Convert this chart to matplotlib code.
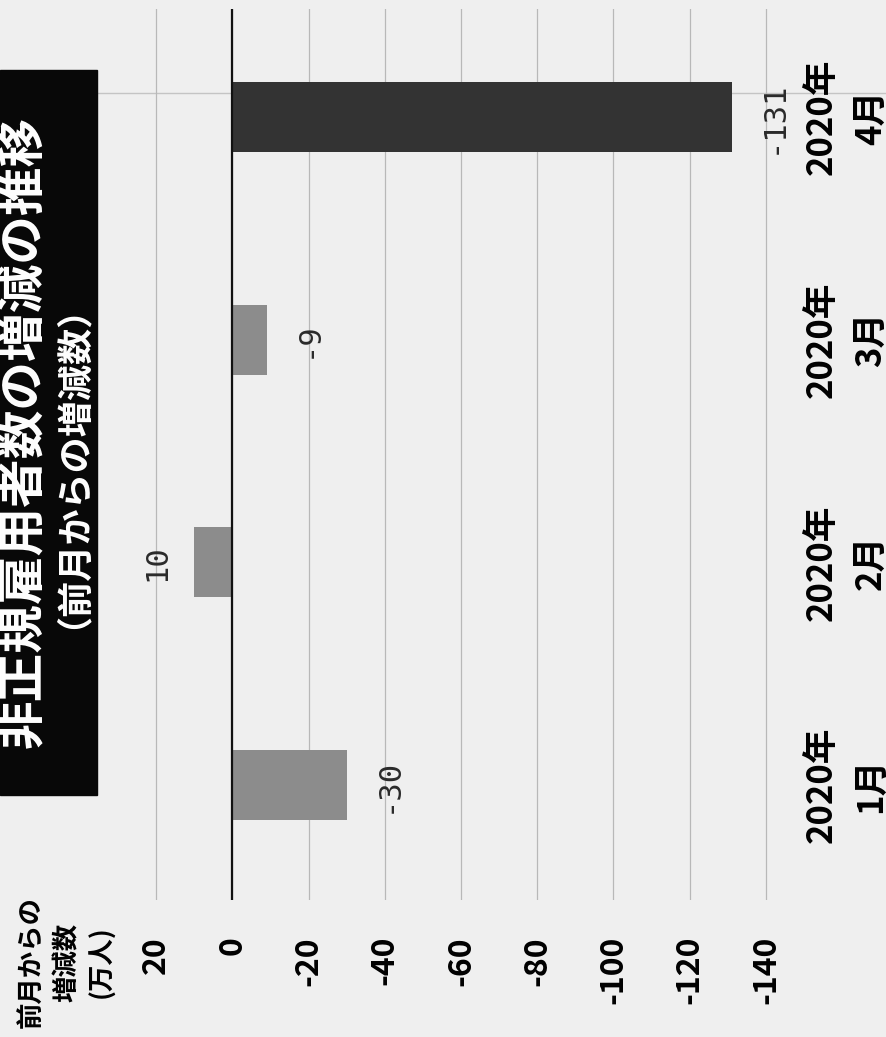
import numpy as np
import matplotlib
matplotlib.use("Agg")
import matplotlib.pyplot as plt
from matplotlib.patches import Rectangle
from matplotlib.lines import Line2D

plt.rcParams['font.family'] = ['Noto Sans CJK JP', 'DejaVu Sans']

# data
months = ['1月', '2月', '3月', '4月']
year = '2020年'
values = [-30, 10, -9, -131]
bar_colors = ['#8c8c8c', '#8c8c8c', '#8c8c8c', '#333333']
ticks = [20, 0, -20, -40, -60, -80, -100, -120, -140]

title = '非正規雇用者数の増減の推移'
subtitle = '（前月からの増減数）'
unit = '前月からの\n増減数\n(万人)'

W, H = 887, 1037
fig = plt.figure(figsize=(W / 100, H / 100), dpi=100)
fig.patch.set_facecolor('#efefef')


def fx(px):
    return px / W


def fy(py):
    return 1 - py / H


# the chart is printed turned on its side, so bars run horizontally
ax = fig.add_axes([fx(118), fy(900), fx(804) - fx(118), fy(9) - fy(900)])
ax.set_facecolor('none')
pos = np.arange(len(months))
ax.barh(pos, values, height=0.315, color=bar_colors, zorder=3)
ax.set_xlim(30, -150)
ax.set_ylim(-0.516, 3.485)

ax.set_xticks(ticks)
ax.set_xticklabels([str(t) for t in ticks], rotation=90, fontsize=23,
                   fontweight='bold', va='top', ha='center')
ax.tick_params(axis='x', length=0, pad=26)
ax.grid(axis='x', color='#b8b8b8', lw=0.9, zorder=0)
ax.axvline(0, color='#111111', lw=1.6, zorder=4)

ax.yaxis.tick_right()
ax.set_yticks(pos)
ax.set_yticklabels([f'{year}\n{m}' for m in months], rotation=90, fontsize=25,
                   fontweight='bold', ha='left', va='center',
                   multialignment='center')
for t in ax.get_yticklabels():
    t.set_linespacing(1.5)
ax.tick_params(axis='y', length=0, pad=0)
for s in ax.spines.values():
    s.set_visible(False)

# value labels beyond the bar ends
for p, v in zip(pos, values):
    off = 30 if v < 0 else -27
    ax.annotate(str(v), (v, p), xytext=(off, 0), textcoords='offset points',
                rotation=90, ha='center', va='center', fontsize=22,
                family='DejaVu Sans Mono', color='#2a2a2a')

# fold line across the page
fig.add_artist(Line2D([0, 1], [fy(93), fy(93)], transform=fig.transFigure,
                      color='#c4c4c4', lw=1, zorder=-1))

# title block
fig.add_artist(Rectangle((0, fy(795)), fx(97), fy(70) - fy(795),
                         transform=fig.transFigure, color='#080808', zorder=1))
fig.text(fx(24), fy(432), title, rotation=90, color='white', fontsize=35,
         fontweight='bold', ha='center', va='center', zorder=2)
fig.text(fx(54), fy(448), subtitle, rotation=90, color='white', fontsize=26,
         fontweight='bold', ha='center', va='center', zorder=2)

fig.text(fx(67), fy(962), unit, rotation=90, fontsize=19, fontweight='bold',
         ha='center', va='center', multialignment='center', linespacing=1.4)

fig.savefig('out.png', dpi=100, facecolor=fig.get_facecolor())
